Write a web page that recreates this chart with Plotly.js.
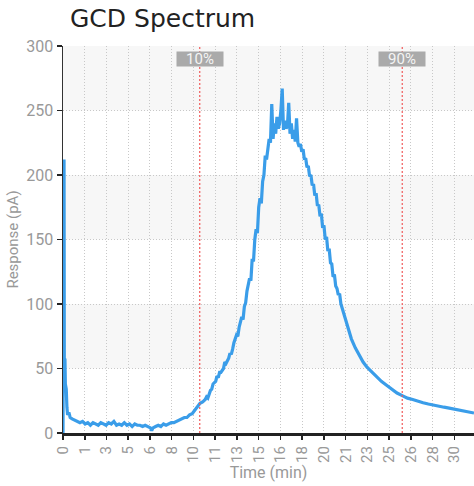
<!DOCTYPE html>
<html>
<head>
<meta charset="utf-8">
<script src="https://cdn.plot.ly/plotly-3.0.1.min.js"></script>
<style>html,body{margin:0;padding:0;background:#fff;}#chart{width:474px;height:486px;}</style>
</head>
<body>
<div id="chart"></div>
<script>
// Time (min)
const timeMin = [
0,0.02,0.08,0.1,0.15,0.18,0.25,0.3,0.35,0.45,0.55,0.7,0.9,1.1,1.3,1.5,1.7,1.9,2.1,2.3,2.5,2.7,2.9,
3.1,3.3,3.5,3.7,3.9,4.1,4.3,4.5,4.7,4.9,5.1,5.3,5.5,5.7,5.9,6.1,6.3,6.5,6.7,6.8,6.9,7.1,7.3,7.5,7.7,7.9,
8.1,8.3,8.5,8.7,8.9,9.1,9.3,9.5,9.7,9.9,10.1,10.3,10.5,10.7,10.9,11.0,11.1,11.3,11.4,11.5,11.7,11.8,11.9,
12.0,12.1,12.3,12.4,12.5,12.7,12.8,12.9,13.0,13.1,13.3,13.4,13.5,13.7,13.8,13.9,14.0,14.1,14.3,14.4,14.5,14.6,14.7,14.8,14.9,15.0,15.1,15.2,15.3,15.4,15.5,15.6,15.7,15.8,15.9,
16.0,16.1,16.2,16.3,16.4,16.5,16.6,16.7,16.8,16.9,17.0,17.1,17.2,17.3,17.4,17.5,17.6,17.7,17.8,17.9,18.0,18.1,
18.2,18.3,18.4,18.5,18.6,18.7,18.8,18.9,19.0,19.1,19.2,19.3,19.4,19.5,19.6,19.7,19.8,19.9,20.0,20.1,20.2,20.3,20.4,20.5,20.6,20.7,20.8,20.9,21.0,21.1,21.2,21.3,21.5,21.7,21.9,22.1,22.4,22.7,
23.0,23.3,23.6,24.0,24.4,24.8,25.2,25.6,26.0,26.4,26.8,27.2,27.6,28.0,28.4,28.8,29.2,29.6,30.0,30.4,30.8,31.2,31.5
];
// Response (pA)
const responsePA = [
0,212,212,58,57,38,34,20,14,16,12,11,10,9,8,9,7,8,6,8,7,6,8,
7,6,8,7,9,6,7,6,8,6,7,5,7,6,6,5,6,5,4,2,4,5,6,5,7,6,
7,8,8,9,10,11,12,12,14,15,18,20,23,24,26,28,27,33,34,38,40,44,43,
47,47,50,55,54,58,62,61,65,70,76,75,82,90,88,98,101,110,120,118,135,133,150,158,155,175,182,178,195,200,215,212,220,228,225,
255,228,240,232,245,236,240,250,267,235,242,236,238,256,232,240,228,235,226,244,225,222,
224,218,220,212,213,206,207,199,200,192,193,184,186,176,177,168,170,159,161,150,152,141,143,132,131,121,123,114,112,107,108,100,93,86,79,73,66,60,
55,51,48,44,40,37,34,31,29,27,26,24.5,23.5,22.5,21.5,21,20,19.3,18.5,17.8,17,16.2,15.5
];
const xTickVals = [0,1.6667,3.3333,5,6.6667,8.3333,10,11.6667,13.3333,15,16.6667,18.3333,20,21.6667,23.3333,25,26.6667,28.3333,30];
const xTickLabels = ['0','1','3','5','6','8','10','11','13','15','16','18','20','21','23','25','26','28','30'];
const markerTimes = [10.48, 26.0];
const markerLabels = ['10%', '90%'];
const bandRanges = [[250,300],[150,200],[50,100]];

const narrow = '"Liberation Sans Narrow", "Roboto", sans-serif';

const shapes = bandRanges.map(b => ({
  type: 'rect', xref: 'paper', yref: 'y', x0: 0, x1: 1, y0: b[0], y1: b[1],
  fillcolor: '#f7f7f7', line: {width: 0}, layer: 'below'
})).concat(markerTimes.map(t => ({
  type: 'line', xref: 'x', yref: 'paper', x0: t, x1: t, y0: 0, y1: 1,
  line: {color: '#f05a5a', width: 1.2, dash: '2px,2px'}, layer: 'above'
})));

const annotations = markerTimes.map((t, i) => ({
  x: t, xref: 'x', y: 290, yref: 'y', text: markerLabels[i], showarrow: false,
  font: {family: narrow, size: 15, color: '#f4f4f4'}, bgcolor: '#aaaaaa',
  borderpad: 0, width: 46, height: 14
}));

const trace = {
  x: timeMin, y: responsePA, type: 'scatter', mode: 'lines',
  line: {color: '#3a9de9', width: 3.2, shape: 'linear'}, hoverinfo: 'skip'
};

const layout = {
  width: 474, height: 486,
  margin: {l: 63, r: 0, t: 46, b: 53},
  paper_bgcolor: '#ffffff', plot_bgcolor: '#ffffff',
  showlegend: false,
  title: {text: 'GCD Spectrum', font: {family: 'DejaVu Sans, Verdana, sans-serif', size: 25, color: '#222'},
          xref: 'container', x: 70/474, xanchor: 'left', yref: 'container', y: 1 - 18/486, yanchor: 'middle'},
  xaxis: {
    range: [0, 31.5], tickvals: xTickVals, ticktext: xTickLabels, tickangle: -90,
    tickfont: {family: narrow, size: 15, color: '#999'},
    ticks: 'outside', ticklen: 4, tickcolor: '#222', tickwidth: 1.5,
    showline: true, linecolor: '#222', linewidth: 3,
    showgrid: true, gridcolor: '#c8c8c8', griddash: '1px,2px', gridwidth: 1,
    zeroline: false, fixedrange: true,
    title: {text: 'Time (min)', font: {family: narrow, size: 16, color: '#999'}, standoff: 0}
  },
  yaxis: {
    range: [0, 300], dtick: 50, tick0: 0,
    tickfont: {family: narrow, size: 16, color: '#999'},
    ticks: 'outside', ticklen: 5, tickcolor: '#222', tickwidth: 1.5,
    showline: true, linecolor: '#333', linewidth: 1.5,
    showgrid: true, gridcolor: '#c8c8c8', griddash: '1px,2px', gridwidth: 1,
    zeroline: false, fixedrange: true,
    title: {text: 'Response (pA)', font: {family: narrow, size: 15, color: '#999'}, standoff: 4}
  },
  shapes: shapes,
  annotations: annotations
};

Plotly.newPlot('chart', [trace], layout, {displayModeBar: false, staticPlot: true});
</script>
</body>
</html>
